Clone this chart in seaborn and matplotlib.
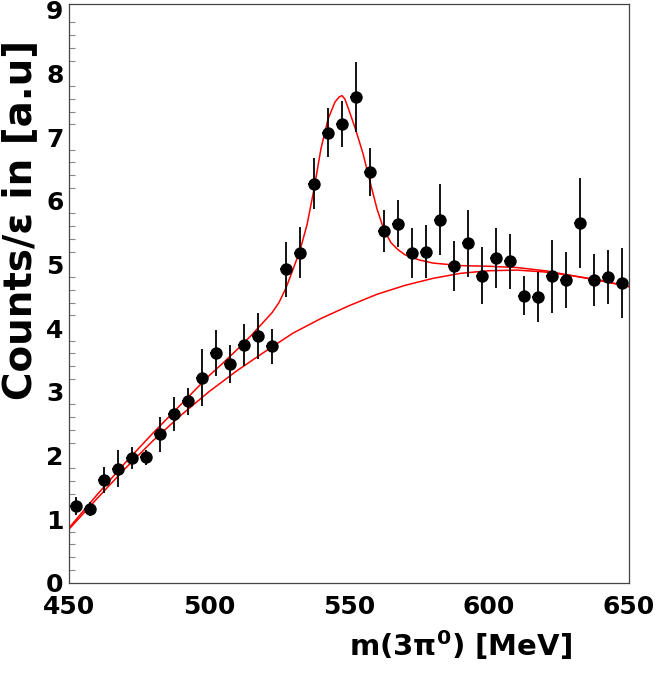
import matplotlib
matplotlib.use("Agg")
import matplotlib.pyplot as plt
import seaborn as sns
import pandas as pd
from matplotlib.ticker import MultipleLocator

# ---- data points (bin centres, counts, errors) ----
mass = [452.5, 457.5, 462.5, 467.5, 472.5, 477.5, 482.5, 487.5, 492.5, 497.5,
        502.5, 507.5, 512.5, 517.5, 522.5, 527.5, 532.5, 537.5, 542.5, 547.5,
        552.5, 557.5, 562.5, 567.5, 572.5, 577.5, 582.5, 587.5, 592.5, 597.5,
        602.5, 607.5, 612.5, 617.5, 622.5, 627.5, 632.5, 637.5, 642.5, 647.5]
counts = [1.21, 1.16, 1.61, 1.79, 1.96, 1.97, 2.33, 2.65, 2.85, 3.22,
          3.61, 3.43, 3.73, 3.87, 3.71, 4.92, 5.18, 6.27, 7.07, 7.20,
          7.63, 6.45, 5.53, 5.64, 5.18, 5.20, 5.70, 4.97, 5.33, 4.82,
          5.10, 5.05, 4.51, 4.49, 4.81, 4.75, 5.65, 4.75, 4.80, 4.71]
errors = [0.14, 0.11, 0.20, 0.29, 0.17, 0.12, 0.27, 0.27, 0.21, 0.45,
          0.36, 0.30, 0.33, 0.36, 0.28, 0.43, 0.40, 0.40, 0.39, 0.36,
          0.55, 0.37, 0.33, 0.37, 0.39, 0.42, 0.56, 0.39, 0.53, 0.45,
          0.47, 0.43, 0.31, 0.39, 0.57, 0.44, 0.71, 0.41, 0.43, 0.55]

# ---- fit curves ----
bg_mass = [450, 460, 470, 480, 490, 500, 510, 520, 530, 540, 550,
           560, 570, 580, 590, 600, 610, 620, 630, 640, 650]
bg_vals = [0.84, 1.32, 1.79, 2.23, 2.63, 3.00, 3.33, 3.63, 3.92, 4.15, 4.35,
           4.53, 4.67, 4.78, 4.86, 4.90, 4.91, 4.88, 4.82, 4.75, 4.65]

tot_mass = [450, 460, 470, 480, 490, 500, 505, 510, 515, 520, 522.5, 525,
            527.5, 530, 532.5, 535, 537.5, 540, 542.5, 545, 546.5, 547.5, 548.5,
            550, 552.5, 555, 557.5, 560, 562.5, 565, 567.5, 570, 575, 580, 585,
            590, 600, 610, 620, 630, 640, 650]
tot_vals = [0.86, 1.38, 1.88, 2.35, 2.80, 3.25, 3.45, 3.66, 3.88, 4.12, 4.24, 4.40,
            4.63, 4.92, 5.22, 5.62, 6.18, 6.82, 7.28, 7.55, 7.63, 7.65, 7.60,
            7.42, 7.10, 6.74, 6.30, 5.87, 5.54, 5.34, 5.23, 5.15, 5.07, 5.02, 5.00,
            4.98, 4.97, 4.95, 4.90, 4.82, 4.74, 4.65]

x_ticks = [450, 500, 550, 600, 650]
y_ticks = [0, 1, 2, 3, 4, 5, 6, 7, 8, 9]

sns.set_style("white")
plt.rcParams['font.family'] = ['DejaVu Sans']

fig = plt.figure(figsize=(6.57, 6.74), dpi=100)
ax = fig.add_axes([0.1050, 0.1355, 0.8524, 0.8586])

df_pts = pd.DataFrame({"m": mass, "c": counts, "e": errors})
df_bg = pd.DataFrame({"m": bg_mass, "v": bg_vals})
df_tot = pd.DataFrame({"m": tot_mass, "v": tot_vals})

sns.lineplot(data=df_bg, x="m", y="v", ax=ax, color="#ff0000", lw=1.1, sort=True)
sns.lineplot(data=df_tot, x="m", y="v", ax=ax, color="#ff0000", lw=1.1, sort=True)

ax.errorbar(df_pts["m"], df_pts["c"], yerr=df_pts["e"], xerr=2.0, fmt="none",
            ecolor="black", elinewidth=1.3, capsize=0, zorder=3)
sns.scatterplot(data=df_pts, x="m", y="c", ax=ax, color="black", s=80,
                edgecolor="black", linewidth=0, zorder=4)

ax.set_xlim(450, 650)
ax.set_ylim(0, 9.09)
ax.set_xticks(x_ticks)
ax.set_yticks(y_ticks)
ax.yaxis.set_minor_locator(MultipleLocator(0.2))

for s in ax.spines.values():
    s.set_color("#444444")
    s.set_linewidth(0.9)

ax.tick_params(axis="both", which="both", direction="in", colors="#888888",
               labelcolor="black", labelsize=18, width=0.8)
ax.tick_params(axis="both", which="major", length=8)
ax.tick_params(axis="y", which="minor", length=4.5, left=True)
ax.tick_params(axis="x", which="major", pad=9)
ax.tick_params(axis="y", which="major", pad=4)
for lab in ax.get_xticklabels() + ax.get_yticklabels():
    lab.set_fontweight("bold")

ax.set_xlabel("m(3π$^{\\mathbf{0}}$) [MeV]", fontsize=21, fontweight="bold",
              ha="right", color="black")
ax.xaxis.set_label_coords(0.898, -0.078)
ax.set_ylabel("Counts/ε in [a.u]", fontsize=28, fontweight="bold", loc="top",
              color="black")
ax.yaxis.set_label_coords(-0.053, 0.938)

fig.savefig("out.png", dpi=100)
